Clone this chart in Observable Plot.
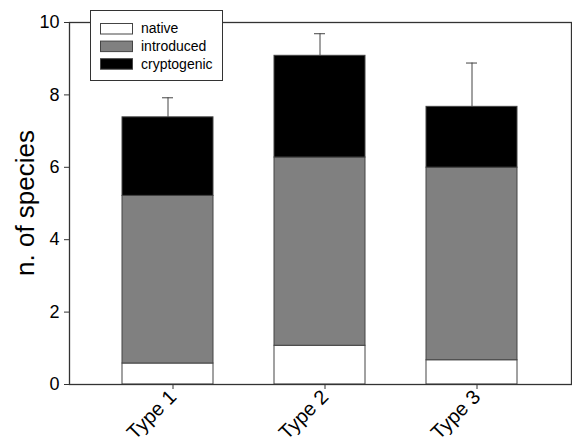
<!DOCTYPE html>
<html>
<head>
<meta charset="utf-8">
<script src="https://cdn.jsdelivr.net/npm/d3@7"></script>
<script src="https://cdn.jsdelivr.net/npm/@observablehq/plot@0.6"></script>
<style>
  html, body { margin: 0; padding: 0; background: #fff; }
  #chart svg { display: block; font-family: "Liberation Sans", Arial, sans-serif; }
</style>
</head>
<body>
<div id="chart"></div>
<script>
const categories = ["Type 1", "Type 2", "Type 3"];
const seriesNames = ["native", "introduced", "cryptogenic"];
const seriesColors = ["#ffffff", "#808080", "#000000"];
const native = [0.58, 1.07, 0.67];
const introduced = [4.63, 5.20, 5.32];
const cryptogenic = [2.17, 2.81, 1.68];
const errors = [0.54, 0.61, 1.21];
const yTicks = [0, 2, 4, 6, 8, 10];
const yLabel = "n. of species";

const seriesValues = [native, introduced, cryptogenic];
const table = [];
seriesNames.forEach((s, si) => categories.forEach((c, ci) => table.push({ cat: c, series: s, value: seriesValues[si][ci] })));
const totals = categories.map((c, i) => ({ cat: c, total: native[i] + introduced[i] + cryptogenic[i], top: native[i] + introduced[i] + cryptogenic[i] + errors[i] }));

const font = "'Liberation Sans', Arial, sans-serif";
const chart = Plot.plot({
  width: 572,
  height: 445,
  marginLeft: 69,
  marginRight: 1,
  marginTop: 22,
  marginBottom: 61,
  style: { fontFamily: font, background: "#fff", color: "#000" },
  x: { domain: categories, paddingInner: 0.4, paddingOuter: 0.35 },
  y: { domain: [0, 10] },
  color: { domain: seriesNames, range: seriesColors },
  marks: [
    Plot.barY(table, { x: "cat", y: "value", fill: "series", stroke: "#444", strokeWidth: 1, order: seriesNames }),
    Plot.ruleX(totals, { x: "cat", y1: "total", y2: "top", stroke: "#444", strokeWidth: 1 }),
    Plot.tickY(totals, { x: "cat", y: "top", stroke: "#444", strokeWidth: 1, insetLeft: 40, insetRight: 40 }),
    Plot.frame({ stroke: "#333", strokeWidth: 1.3 }),
    Plot.axisY({ ticks: yTicks, tickSize: 5, tickPadding: 5, fontSize: 18, label: null, stroke: "#333" }),
    Plot.axisX({ tickSize: 5, tickPadding: 4, tickRotate: -45, fontSize: 20, label: null, stroke: "#333", dx: 5 })
  ]
});

document.getElementById("chart").appendChild(chart);

const svg = d3.select(chart);
const yScale = chart.scale("y");
const yMid = (yScale.apply(0) + yScale.apply(10)) / 2;
svg.append("text")
  .attr("transform", `translate(25,${yMid}) rotate(-90)`)
  .attr("text-anchor", "middle").attr("dy", "0.35em")
  .attr("font-family", font).attr("font-size", 26).attr("fill", "#000")
  .text(yLabel);

// legend drawn over the plot using the chart's color scale
const color = chart.scale("color");
const lg = svg.append("g").attr("font-family", font).attr("font-size", 14).attr("text-anchor", "start");
lg.append("rect").attr("x", 90.5).attr("y", 10.5).attr("width", 132).attr("height", 70)
  .attr("fill", "#fff").attr("stroke", "#333").attr("stroke-width", 1);
seriesNames.forEach((s, i) => {
  const cy = 28.5 + i * 17.6;
  lg.append("rect").attr("x", 100.5).attr("y", cy - 5).attr("width", 32).attr("height", 10.5)
    .attr("fill", color.apply(s)).attr("stroke", "#444").attr("stroke-width", 1);
  lg.append("text").attr("x", 141).attr("y", cy).attr("dy", "0.35em").attr("fill", "#000").text(s);
});
</script>
</body>
</html>
